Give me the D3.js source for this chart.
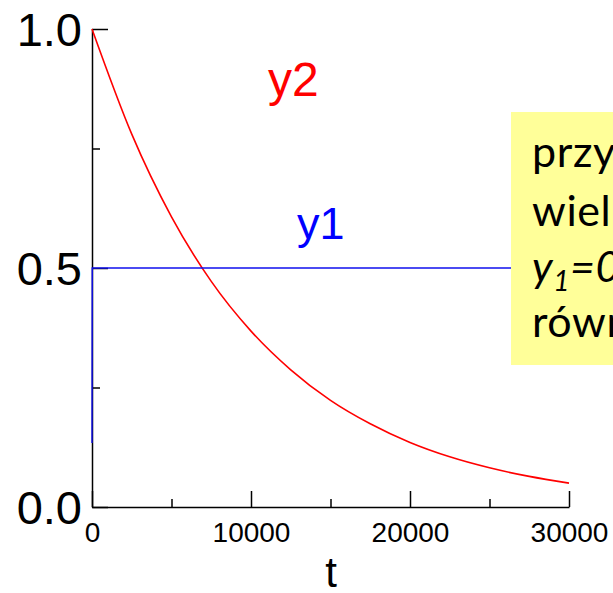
<!DOCTYPE html>
<html>
<head>
<meta charset="utf-8">
<script src="https://cdn.jsdelivr.net/npm/d3@7/dist/d3.min.js"></script>
<style>
  html, body { margin: 0; padding: 0; background: #fff; overflow: hidden; }
  svg { display: block; }
</style>
</head>
<body>
<svg id="chart" width="613" height="593"></svg>
<script>
// Time axis (t) and the two concentration series
const tValues  = [0, 2500, 5000, 7500, 10000, 12500, 15000, 17500, 20000, 22500, 25000, 27500, 30000];
const y2Values = [1.0, 0.78, 0.607, 0.472, 0.368, 0.287, 0.223, 0.174, 0.135, 0.105, 0.082, 0.064, 0.050];
const y1T      = [0, 15, 30000];
const y1Values = [0.134, 0.5, 0.5];

const xMajorTicks = [0, 10000, 20000, 30000];
const xMinorTicks = [5000, 15000, 25000];
const yMajorTicks = [0, 0.5, 1.0];
const yMinorTicks = [0.25, 0.75];

const noteLines = ["przy dużych", "wielkościach", null, "równowaga"];

const svg = d3.select("#chart");
const x = d3.scaleLinear().domain([0, 30000]).range([92, 569]);
const y = d3.scaleLinear().domain([0, 1]).range([507, 29]);

const fontAxis = "'Liberation Sans', Arial, sans-serif";

// Axes: ticks point into the plot
function styleAxis(g) {
  g.selectAll("path.domain").attr("stroke", "#000").attr("stroke-width", 1.5);
  g.selectAll(".tick line").attr("stroke", "#000").attr("stroke-width", 1.5);
}

const xAxisMinor = svg.append("g").attr("transform", "translate(0,507)")
  .call(d3.axisBottom(x).tickValues(xMinorTicks).tickSize(-8).tickSizeOuter(0).tickFormat(""));
styleAxis(xAxisMinor);
xAxisMinor.select("path.domain").remove();

const xAxis = svg.append("g").attr("transform", "translate(0,507)")
  .call(d3.axisBottom(x).tickValues(xMajorTicks).tickSize(-16).tickSizeOuter(0).tickPadding(15).tickFormat(d3.format("d")));
styleAxis(xAxis);
xAxis.selectAll(".tick text")
  .attr("font-family", fontAxis).attr("font-size", 28).attr("fill", "#000");

const yAxisMinor = svg.append("g").attr("transform", "translate(92,0)")
  .call(d3.axisLeft(y).tickValues(yMinorTicks).tickSize(-8).tickSizeOuter(0).tickFormat(""));
styleAxis(yAxisMinor);
yAxisMinor.select("path.domain").remove();

const yAxis = svg.append("g").attr("transform", "translate(92,0)")
  .call(d3.axisLeft(y).tickValues(yMajorTicks).tickSize(-16).tickSizeOuter(0).tickPadding(10).tickFormat(d3.format(".1f")));
styleAxis(yAxis);
yAxis.selectAll(".tick text")
  .attr("font-family", fontAxis).attr("font-size", 47).attr("fill", "#000").attr("dy", "0.36em");

// y2 curve (red)
const y2Data = tValues.map((t, i) => ({ t, v: y2Values[i] }));
svg.append("path")
  .datum(y2Data)
  .attr("fill", "none")
  .attr("stroke", "#ff0000")
  .attr("stroke-width", 1.6)
  .attr("d", d3.line().x(d => x(d.t)).y(d => y(d.v)).curve(d3.curveMonotoneX));

// y1 curve (blue)
const y1Data = y1T.map((t, i) => ({ t, v: y1Values[i] }));
svg.append("path")
  .datum(y1Data)
  .attr("fill", "none")
  .attr("stroke", "#1010ee")
  .attr("stroke-width", 1.4)
  .attr("d", d3.line().x(d => x(d.t)).y(d => y(d.v)));

// Axis title
svg.append("text")
  .attr("x", 331).attr("y", 587)
  .attr("text-anchor", "middle")
  .attr("font-family", fontAxis).attr("font-size", 42).attr("fill", "#000")
  .text("t");

// Series labels
svg.append("text")
  .attr("x", 268).attr("y", 96)
  .attr("font-family", fontAxis).attr("font-size", 48).attr("fill", "#ff0000")
  .text("y2");
svg.append("text")
  .attr("x", 297).attr("y", 239)
  .attr("font-family", fontAxis).attr("font-size", 45).attr("fill", "#0000ff")
  .text("y1");

// Note box
const note = svg.append("g");
note.append("rect")
  .attr("x", 511).attr("y", 112).attr("width", 200).attr("height", 253)
  .attr("fill", "#ffff99");
const fontNote = "Lato, 'Open Sans', sans-serif";
const baselines = [167, 226, 282, 337];
noteLines.forEach((line, i) => {
  const t = note.append("text")
    .attr("x", 532).attr("y", baselines[i])
    .attr("font-family", fontNote).attr("font-size", 43)
    .attr("letter-spacing", 0.6).attr("fill", "#000");
  if (line !== null) {
    t.text(line);
  } else {
    t.append("tspan").attr("font-style", "italic").text("y");
    t.append("tspan").attr("font-style", "italic").attr("font-size", 28).attr("dy", 9).text("1");
    t.append("tspan").attr("font-style", "italic").attr("dy", -9).text("=0,5");
  }
});
</script>
</body>
</html>
